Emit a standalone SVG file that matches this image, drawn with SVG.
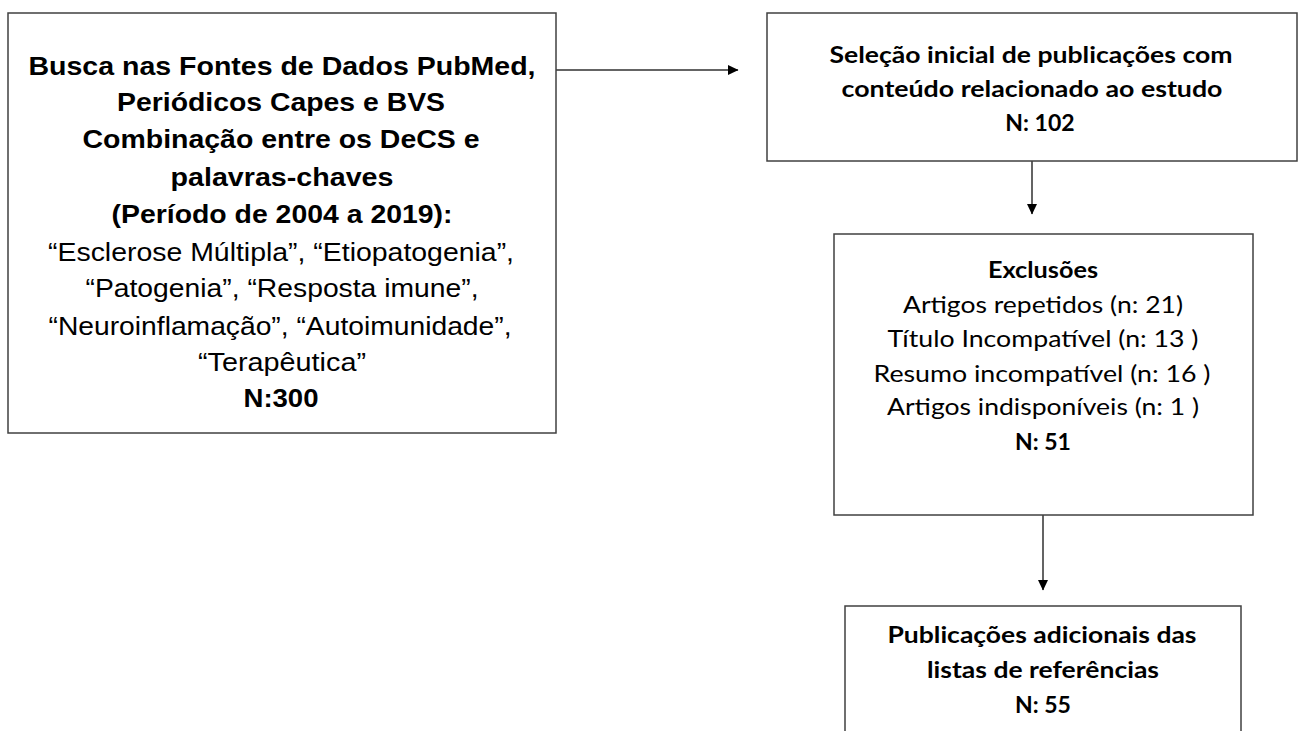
<svg xmlns="http://www.w3.org/2000/svg" width="1299" height="731" viewBox="0 0 1299 731">
<style>
.box{fill:#fff;stroke:#404040;stroke-width:1.5}
.a{font-family:"Liberation Sans",Arial,sans-serif;font-size:25px;fill:#000;text-anchor:middle}
.c{font-family:Lato,"Open Sans",sans-serif;font-size:23px;fill:#000;text-anchor:middle}
.b{font-weight:bold}
.conn{stroke:#303030;stroke-width:1.5;fill:none}
</style>
<defs>
<marker id="ah" markerWidth="11" markerHeight="11" refX="10" refY="5.5" orient="auto" markerUnits="userSpaceOnUse">
<path d="M0,0.5 L10.5,5.5 L0,10.5 Z" fill="#000"/>
</marker>
</defs>
<rect width="1299" height="731" fill="#fff"/>
<g id="connectors">
<line class="conn" x1="556" y1="70" x2="738" y2="70" marker-end="url(#ah)"/>
<line class="conn" x1="1032" y1="161" x2="1032" y2="214" marker-end="url(#ah)"/>
<line class="conn" x1="1043" y1="515" x2="1043" y2="590" marker-end="url(#ah)"/>
</g>
<g id="node-busca">
<rect class="box" x="8" y="13" width="548" height="420"/>
<text class="a b" x="282" y="75" textLength="507" lengthAdjust="spacingAndGlyphs">Busca nas Fontes de Dados PubMed,</text>
<text class="a b" x="281" y="111" textLength="328" lengthAdjust="spacingAndGlyphs">Periódicos Capes e BVS</text>
<text class="a b" x="281" y="148" textLength="397" lengthAdjust="spacingAndGlyphs">Combinação entre os DeCS e</text>
<text class="a b" x="282" y="186" textLength="223" lengthAdjust="spacingAndGlyphs">palavras-chaves</text>
<text class="a b" x="282" y="223" textLength="341" lengthAdjust="spacingAndGlyphs">(Período de 2004 a 2019):</text>
<text class="a" x="281" y="261" textLength="466" lengthAdjust="spacingAndGlyphs">“Esclerose Múltipla”,  “Etiopatogenia”,</text>
<text class="a" x="282" y="297" textLength="393" lengthAdjust="spacingAndGlyphs">“Patogenia”, “Resposta imune”,</text>
<text class="a" x="280" y="335" textLength="463" lengthAdjust="spacingAndGlyphs">“Neuroinflamação”,  “Autoimunidade”,</text>
<text class="a" x="282" y="371" textLength="168" lengthAdjust="spacingAndGlyphs">“Terapêutica”</text>
<text class="a b" x="281" y="407" textLength="75" lengthAdjust="spacingAndGlyphs">N:300</text>
</g>
<g id="node-selecao">
<rect class="box" x="767" y="13" width="530" height="148"/>
<text class="c b" x="1031" y="63" textLength="403" lengthAdjust="spacingAndGlyphs">Seleção inicial de publicações com</text>
<text class="c b" x="1032" y="97" textLength="381" lengthAdjust="spacingAndGlyphs">conteúdo relacionado ao estudo</text>
<text class="c b" x="1040" y="131">N: 102</text>
</g>
<g id="node-exclusoes">
<rect class="box" x="834" y="234" width="419" height="281"/>
<text class="c b" x="1043" y="278" textLength="110" lengthAdjust="spacingAndGlyphs">Exclusões</text>
<text class="c" x="1043" y="313" textLength="280" lengthAdjust="spacingAndGlyphs">Artigos repetidos (n: 21)</text>
<text class="c" x="1043" y="347" textLength="311" lengthAdjust="spacingAndGlyphs">Título Incompatível (n: 13 )</text>
<text class="c" x="1042" y="382" textLength="337" lengthAdjust="spacingAndGlyphs">Resumo incompatível (n: 16 )</text>
<text class="c" x="1043" y="415" textLength="312" lengthAdjust="spacingAndGlyphs">Artigos indisponíveis (n: 1 )</text>
<text class="c b" x="1043" y="450">N: 51</text>
</g>
<g id="node-adicionais">
<rect class="box" x="845" y="606" width="396" height="140"/>
<text class="c b" x="1042" y="643" textLength="309" lengthAdjust="spacingAndGlyphs">Publicações adicionais das</text>
<text class="c b" x="1043" y="678" textLength="232" lengthAdjust="spacingAndGlyphs">listas de referências</text>
<text class="c b" x="1043" y="713">N: 55</text>
</g>
</svg>
